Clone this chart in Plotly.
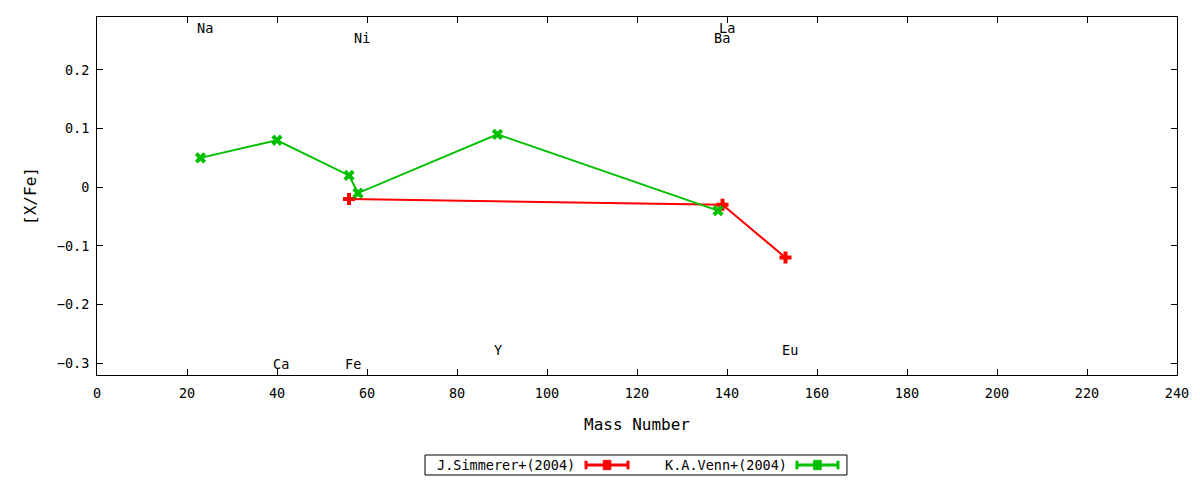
import plotly.graph_objects as go

# abundance ratios [X/Fe] against mass number
simmerer_mass = [56, 139, 153]
simmerer_xfe = [-0.02, -0.03, -0.12]

venn_mass = [23, 40, 56, 58, 89, 138]
venn_xfe = [0.05, 0.08, 0.02, -0.01, 0.09, -0.04]

# element labels drawn at the top/bottom of the frame
elem_names = ['Na', 'Ca', 'Fe', 'Ni', 'Y', 'Ba', 'La', 'Eu']
elem_mass = [23, 40, 56, 58, 89, 138, 139, 153]
elem_ypos = [0.272, -0.302, -0.302, 0.254, -0.278, 0.254, 0.272, -0.278]

RED = '#ff0000'
GREEN = '#00c000'
FONT = 'DejaVu Sans Mono'
FSIZE = 13.5

fig = go.Figure()
fig.add_trace(go.Scatter(x=simmerer_mass, y=simmerer_xfe, mode='lines+markers',
                         name='J.Simmerer+(2004)', line=dict(color=RED, width=2),
                         marker=dict(symbol='cross', size=10, color=RED)))
fig.add_trace(go.Scatter(x=venn_mass, y=venn_xfe, mode='lines+markers',
                         name='K.A.Venn+(2004)', line=dict(color=GREEN, width=2),
                         marker=dict(symbol='x', size=10, color=GREEN)))

for name, m, yv in zip(elem_names, elem_mass, elem_ypos):
    fig.add_annotation(x=m, y=yv, text=name, showarrow=False, xanchor='left',
                       yanchor='middle', xshift=-6, font=dict(family=FONT, size=FSIZE, color='black'))

# gnuplot-like key: box, text, then sample line with caps
shapes = [dict(type='rect', xref='paper', yref='paper', x0=0.3037, x1=0.6944,
               y0=-0.2793, y1=-0.2235, line=dict(color='black', width=1))]
legend_items = [('J.Simmerer+(2004)', RED, 0.4444, 0.4528, 0.4917),
                ('K.A.Venn+(2004)', GREEN, 0.6407, 0.6481, 0.6861)]
ym = -0.2514
for label, col, tx, x0, x1 in legend_items:
    fig.add_annotation(xref='paper', yref='paper', x=tx, y=ym, text=label, showarrow=False,
                       xanchor='right', yanchor='middle', font=dict(family=FONT, size=FSIZE, color='black'))
    shapes.append(dict(type='line', xref='paper', yref='paper', x0=x0, x1=x1, y0=ym, y1=ym,
                       line=dict(color=col, width=3)))
    for xc in (x0, x1):
        shapes.append(dict(type='line', xref='paper', yref='paper', x0=xc, x1=xc,
                           y0=ym - 0.012, y1=ym + 0.012, line=dict(color=col, width=3)))
    xm = (x0 + x1) / 2
    shapes.append(dict(type='rect', xref='paper', yref='paper', x0=xm - 0.0035, x1=xm + 0.0035,
                       y0=ym - 0.013, y1=ym + 0.013, fillcolor=col, line=dict(color=col, width=1)))

fig.update_layout(
    width=1200, height=480,
    margin=dict(l=97, r=23, t=17, b=105),
    paper_bgcolor='white', plot_bgcolor='white',
    font=dict(family=FONT, size=FSIZE, color='black'),
    showlegend=False,
    shapes=shapes,
    xaxis=dict(range=[0, 240], dtick=20, showgrid=False, zeroline=False,
               showline=True, linecolor='black', linewidth=1, mirror='ticks',
               ticks='inside', ticklen=6, tickcolor='black', ticklabelstandoff=6,
               title=dict(text='Mass Number', standoff=18)),
    yaxis=dict(range=[-0.32, 0.29], dtick=0.1, tickformat='.1~f', showgrid=False, zeroline=False,
               showline=True, linecolor='black', linewidth=1, mirror='ticks',
               ticks='inside', ticklen=6, tickcolor='black', ticklabelstandoff=4,
               title=dict(text='[X/Fe]', standoff=16)),
)

fig.write_html("out.html", config={'displayModeBar': False},
               post_script="document.body.style.margin='0';")
